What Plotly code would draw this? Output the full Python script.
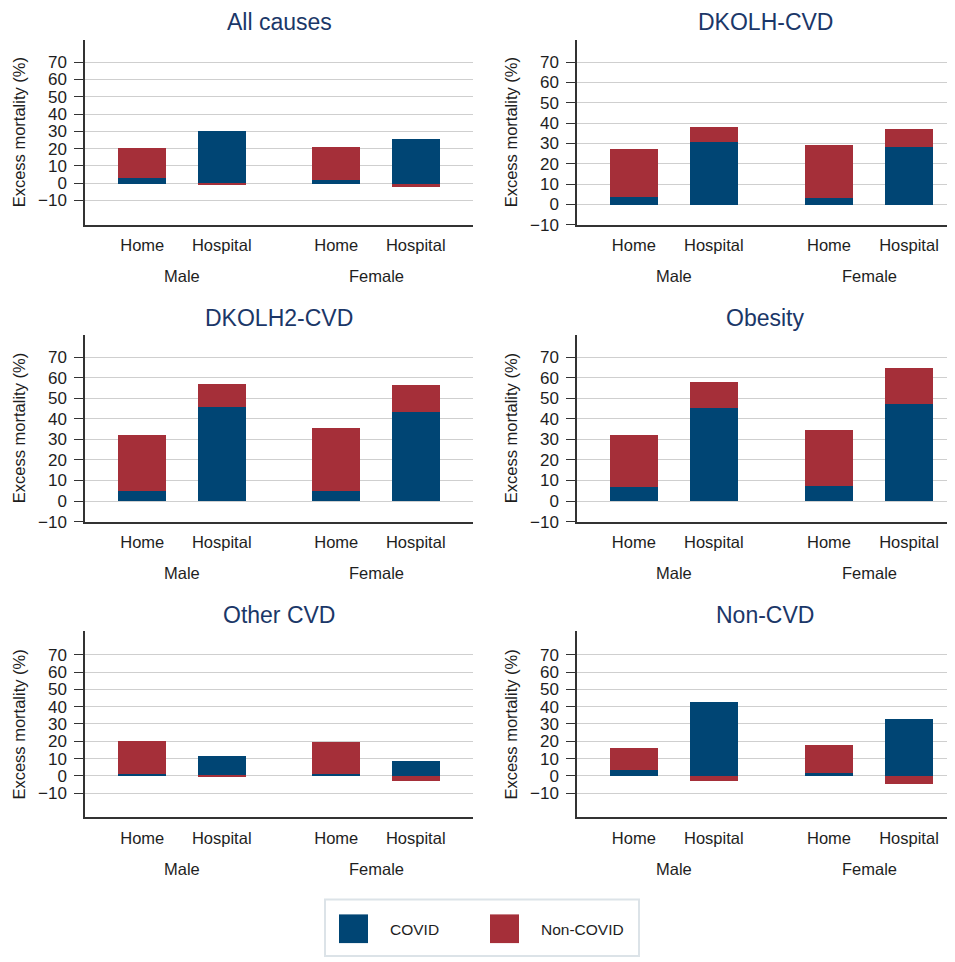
import plotly.graph_objects as go

# ---------------- data ----------------
panel_titles = ["All causes", "DKOLH-CVD", "DKOLH2-CVD", "Obesity", "Other CVD", "Non-CVD"]
place_labels = ["Home", "Hospital", "Home", "Hospital"]
sex_labels = ["Male", "Female"]
y_tick_values = [-10, 0, 10, 20, 30, 40, 50, 60, 70]

# order: Male-Home, Male-Hospital, Female-Home, Female-Hospital
covid_all_causes = [3.0, 30.5, 2.1, 25.5]
noncovid_all_causes = [17.6, -0.9, 19.2, -1.9]

covid_dkolh_cvd = [3.6, 30.6, 3.2, 28.5]
noncovid_dkolh_cvd = [23.6, 7.5, 26.3, 8.9]

covid_dkolh2_cvd = [5.2, 45.9, 5.2, 43.4]
noncovid_dkolh2_cvd = [27.3, 11.3, 30.4, 13.3]

covid_obesity = [7.2, 45.4, 7.6, 47.5]
noncovid_obesity = [25.3, 12.6, 27.0, 17.5]

covid_other_cvd = [1.1, 11.2, 0.8, 8.6]
noncovid_other_cvd = [18.7, -0.8, 18.4, -3.2]

covid_non_cvd = [2.9, 42.5, 1.7, 32.6]
noncovid_non_cvd = [12.9, -3.4, 15.8, -5.0]

covid_series = [covid_all_causes, covid_dkolh_cvd, covid_dkolh2_cvd,
                covid_obesity, covid_other_cvd, covid_non_cvd]
noncovid_series = [noncovid_all_causes, noncovid_dkolh_cvd, noncovid_dkolh2_cvd,
                   noncovid_obesity, noncovid_other_cvd, noncovid_non_cvd]

# ---------------- styling / layout ----------------
OFF = 8                      # browser default body margin
W, H = 955 - OFF, 962 - OFF  # figure size
COVID_COLOR = "#004574"
NONCOVID_COLOR = "#A52F39"
TITLE_COLOR = "#1b3768"
TEXT_COLOR = "#1e1e1e"
GRID_COLOR = "#cfcfcf"
FONT = "Liberation Sans, Arial, sans-serif"


def px_x(p):
    return (p - OFF) / W


def px_y(p):
    return 1 - (p - OFF) / H


# bar positions: two groups of two, with a wider gap between groups
bar_x = [0.0, 1.0, 2.44, 3.44]
group_centers = [(bar_x[0] + bar_x[1]) / 2, (bar_x[2] + bar_x[3]) / 2]

col_px = [(85, 473), (577, 955)]
row_px = [(40, 227), (338, 527), (638, 826)]
title_y_px = [22, 321, 621]
sex_y_px_offset = 52  # below plot bottom
y_ranges = [[-24, 83], [-10, 81], [-10, 81], [-10, 81], [-24, 83.5], [-24, 83.5]]
x_ranges = [[-0.72, 4.16], [-0.71, 4.015]]

fig = go.Figure()
annotations = []

for i, title in enumerate(panel_titles):
    r, c = divmod(i, 2)
    n = i + 1
    xa = "x" if n == 1 else f"x{n}"
    ya = "y" if n == 1 else f"y{n}"
    xkey = "xaxis" if n == 1 else f"xaxis{n}"
    ykey = "yaxis" if n == 1 else f"yaxis{n}"

    fig.add_trace(go.Bar(x=bar_x, y=covid_series[i], width=0.6, name="COVID",
                         marker=dict(color=COVID_COLOR, line=dict(width=0)),
                         xaxis=xa, yaxis=ya, showlegend=False))
    fig.add_trace(go.Bar(x=bar_x, y=noncovid_series[i], width=0.6, name="Non-COVID",
                         marker=dict(color=NONCOVID_COLOR, line=dict(width=0)),
                         xaxis=xa, yaxis=ya, showlegend=False))

    x0, x1 = col_px[c]
    y0, y1 = row_px[r]
    fig.layout[xkey] = dict(
        domain=[px_x(x0), min(px_x(x1), 1.0)], anchor=ya, range=x_ranges[c],
        tickvals=bar_x, ticktext=place_labels,
        ticks="outside", ticklen=5, tickcolor="rgba(0,0,0,0)",
        showgrid=False, zeroline=False,
        showline=True, linecolor="#333333", linewidth=1.5,
        tickfont=dict(size=16.5, color=TEXT_COLOR, family=FONT),
        fixedrange=True,
    )
    fig.layout[ykey] = dict(
        domain=[px_y(y1), px_y(y0)], anchor=xa, range=y_ranges[i],
        tickvals=y_tick_values, ticks="outside", ticklen=9, tickcolor="#333333",
        ticklabelstandoff=4,
        showgrid=True, gridcolor=GRID_COLOR, gridwidth=1.3, zeroline=False,
        showline=True, linecolor="#333333", linewidth=1.5,
        tickfont=dict(size=17, color=TEXT_COLOR, family=FONT),
        title=dict(text="Excess mortality (%)", standoff=8,
                   font=dict(size=16.5, color=TEXT_COLOR, family=FONT)),
        fixedrange=True,
    )
    # panel title
    annotations.append(dict(text=title, xref="paper", yref="paper",
                            x=(px_x(x0) + px_x(min(x1, 953))) / 2, y=px_y(title_y_px[r]),
                            showarrow=False, xanchor="center", yanchor="middle",
                            font=dict(size=23, color=TITLE_COLOR, family=FONT)))
    # sex group labels
    for gc, lab in zip(group_centers, sex_labels):
        annotations.append(dict(text=lab, xref=xa, yref="paper",
                                x=gc, y=px_y(y1 + sex_y_px_offset),
                                showarrow=False, xanchor="center", yanchor="middle",
                                font=dict(size=16.5, color=TEXT_COLOR, family=FONT)))

# ---------------- legend (drawn) ----------------
shapes = [
    dict(type="rect", xref="paper", yref="paper",
         x0=px_x(325), x1=px_x(639), y0=px_y(966), y1=px_y(909),
         line=dict(color="#dce3e8", width=2), fillcolor="white"),
    dict(type="rect", xref="paper", yref="paper",
         x0=px_x(339), x1=px_x(368), y0=px_y(953), y1=px_y(924),
         line=dict(width=0), fillcolor=COVID_COLOR),
    dict(type="rect", xref="paper", yref="paper",
         x0=px_x(490), x1=px_x(519), y0=px_y(953), y1=px_y(924),
         line=dict(width=0), fillcolor=NONCOVID_COLOR),
]
annotations.append(dict(text="COVID", xref="paper", yref="paper",
                        x=px_x(388), y=px_y(939), showarrow=False,
                        xanchor="left", yanchor="middle",
                        font=dict(size=15.5, color=TEXT_COLOR, family=FONT)))
annotations.append(dict(text="Non-COVID", xref="paper", yref="paper",
                        x=px_x(539), y=px_y(939), showarrow=False,
                        xanchor="left", yanchor="middle",
                        font=dict(size=15.5, color=TEXT_COLOR, family=FONT)))

fig.update_layout(
    width=W, height=H,
    margin=dict(l=0, r=0, t=0, b=0),
    paper_bgcolor="white", plot_bgcolor="white",
    barmode="relative", bargap=0,
    showlegend=False,
    annotations=annotations,
    shapes=shapes,
    font=dict(family=FONT, color=TEXT_COLOR),
)

fig.write_html("out.html")
